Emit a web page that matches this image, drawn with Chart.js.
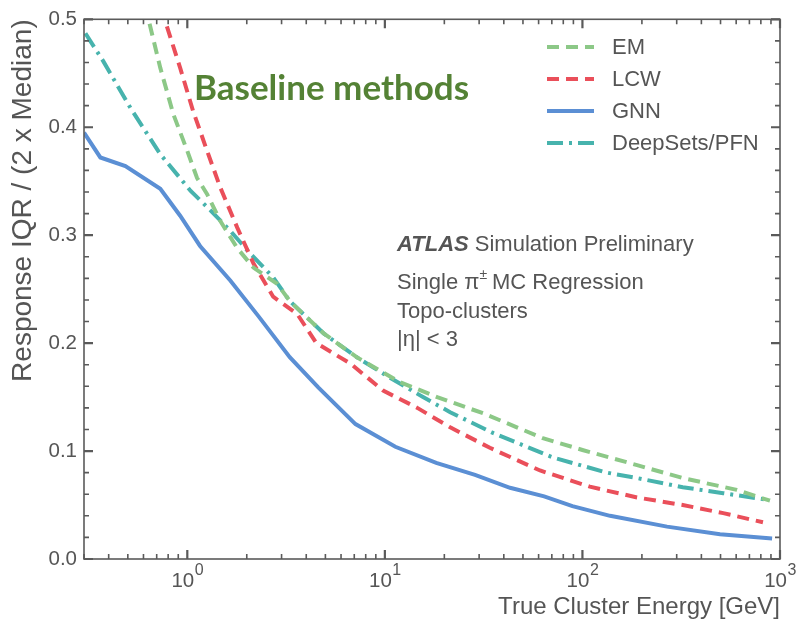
<!DOCTYPE html>
<html><head><meta charset="utf-8">
<script src="https://cdn.jsdelivr.net/npm/chart.js@4/dist/chart.umd.min.js"></script>
<style>html,body{margin:0;padding:0;background:#fff}#wrap{width:799px;height:622px}</style>
</head><body><div id="wrap"><canvas id="c" width="799" height="622"></canvas></div>
<script>
// Data
const emE = [0.58, 0.73, 0.85, 1.0, 1.12, 1.26, 1.47, 1.79, 2.16, 2.85, 3.3, 4.9, 7.2, 11.9, 18.4, 31.4, 63, 100, 189, 322, 604, 889];
const emY = [0.53, 0.455, 0.412, 0.378, 0.353, 0.338, 0.313, 0.288, 0.270, 0.255, 0.239, 0.209, 0.187, 0.164, 0.150, 0.135, 0.112, 0.101, 0.087, 0.075, 0.064, 0.054];
const lcwE = [0.69, 0.774, 0.92, 1.07, 1.26, 1.47, 1.79, 2.16, 2.72, 3.6, 4.5, 6.7, 9.8, 14.6, 21.4, 34, 61, 109, 189, 322, 516, 820];
const lcwY = [0.527, 0.498, 0.455, 0.415, 0.378, 0.344, 0.307, 0.274, 0.243, 0.227, 0.200, 0.181, 0.156, 0.140, 0.122, 0.103, 0.082, 0.067, 0.057, 0.050, 0.0425, 0.034];
const gnnE = [0.3, 0.363, 0.486, 0.73, 0.92, 1.16, 1.65, 2.29, 3.3, 4.6, 7.1, 11.3, 18.2, 28.6, 43, 64, 89, 138, 268, 497, 912];
const gnnY = [0.395, 0.372, 0.364, 0.343, 0.318, 0.290, 0.258, 0.225, 0.187, 0.159, 0.125, 0.104, 0.089, 0.078, 0.066, 0.058, 0.049, 0.040, 0.030, 0.023, 0.019];
const dsE = [0.305, 0.376, 0.515, 0.73, 1.04, 1.31, 1.65, 2.08, 2.72, 3.3, 4.9, 7.2, 10.6, 15.6, 21.4, 35, 71, 133, 189, 322, 516, 889];
const dsY = [0.487, 0.461, 0.418, 0.375, 0.341, 0.323, 0.304, 0.283, 0.261, 0.239, 0.209, 0.187, 0.168, 0.150, 0.136, 0.117, 0.094, 0.080, 0.075, 0.0665, 0.061, 0.0545];
const seriesNames = ['EM', 'LCW', 'GNN', 'DeepSets/PFN'];
const xTickValues = [1, 10, 100, 1000];
const xTickBase = '10';
const xTickExponents = ['0', '1', '2', '3'];
const yTickValues = [0, 0.1, 0.2, 0.3, 0.4, 0.5];

const pts = (xs, ys) => xs.map((x, i) => ({x: x, y: ys[i]}));
const GRAY = '#555555';
const FONT = "'Liberation Sans', Arial, sans-serif";

const mk = (label, data, color, dash) => ({
  label, data, borderColor: color, backgroundColor: color, borderWidth: 4,
  borderDash: dash, pointRadius: 0, tension: 0, fill: false, clip: 0
});

const frame = {
  id: 'frame',
  afterDatasetsDraw(chart) {
    const ctx = chart.ctx, a = chart.chartArea, xs = chart.scales.x, ys = chart.scales.y;
    ctx.save();
    ctx.strokeStyle = '#5a5a5a'; ctx.lineWidth = 1.6;
    ctx.strokeRect(a.left, a.top, a.right - a.left, a.bottom - a.top);
    // x ticks
    for (let d = -1; d <= 3; d++) {
      for (let m = 1; m <= 9; m++) {
        const v = m * Math.pow(10, d);
        if (v < xs.min - 1e-9 || v > xs.max + 1e-9) continue;
        const px = xs.getPixelForValue(v);
        const L = (m === 1) ? 9 : 5;
        ctx.lineWidth = (m === 1) ? 2.2 : 1.6;
        ctx.beginPath();
        ctx.moveTo(px, a.bottom); ctx.lineTo(px, a.bottom - L);
        ctx.moveTo(px, a.top); ctx.lineTo(px, a.top + L);
        ctx.stroke();
      }
    }
    // y ticks
    for (let i = 0; i <= 25; i++) {
      const v = i * 0.02;
      const py = ys.getPixelForValue(v);
      const L = (i % 5 === 0) ? 9 : 5;
      ctx.lineWidth = (i % 5 === 0) ? 2.2 : 1.6;
      ctx.beginPath();
      ctx.moveTo(a.left, py); ctx.lineTo(a.left + L, py);
      ctx.moveTo(a.right, py); ctx.lineTo(a.right - L, py);
      ctx.stroke();
    }
    // x tick labels 10^n
    ctx.fillStyle = GRAY; ctx.textBaseline = 'alphabetic';
    xTickValues.forEach((v, i) => {
      const px = xs.getPixelForValue(v);
      ctx.font = '20.5px ' + FONT;
      const wb = ctx.measureText(xTickBase).width;
      ctx.font = '16px ' + FONT;
      const we = ctx.measureText(xTickExponents[i]).width;
      const x0 = px - (wb + we) / 2;
      ctx.font = '20.5px ' + FONT;
      ctx.fillText(xTickBase, x0, 587);
      ctx.font = '16px ' + FONT;
      ctx.fillText(xTickExponents[i], x0 + wb + 0.5, 575);
    });
    // legend
    const ly = [47, 79, 111, 143];
    chart.data.datasets.forEach((ds, i) => {
      ctx.save();
      ctx.strokeStyle = ds.borderColor; ctx.lineWidth = 4;
      ctx.setLineDash(ds.borderDash || []);
      ctx.beginPath(); ctx.moveTo(547, ly[i]); ctx.lineTo(594, ly[i]); ctx.stroke();
      ctx.restore();
      ctx.fillStyle = GRAY; ctx.font = '22px ' + FONT; ctx.textBaseline = 'middle';
      ctx.fillText(ds.label, 612, ly[i] + 1);
    });
    // annotations
    ctx.textBaseline = 'alphabetic';
    ctx.fillStyle = '#548235';
    ctx.font = "bold 35px Lato, 'Open Sans', sans-serif";
    ctx.fillText('Baseline methods', 194, 100);
    ctx.fillStyle = GRAY;
    ctx.font = 'italic bold 22px ' + FONT;
    ctx.fillText('ATLAS', 397, 251);
    const w = ctx.measureText('ATLAS ').width;
    ctx.font = '22px ' + FONT;
    ctx.fillText('Simulation Preliminary', 397 + w, 251);
    ctx.fillText('Single π', 397, 289);
    const w2 = ctx.measureText('Single π').width;
    ctx.font = '14px ' + FONT;
    ctx.fillText('±', 397 + w2, 279);
    const w3 = ctx.measureText('± ').width;
    ctx.font = '22px ' + FONT;
    ctx.fillText('MC Regression', 397 + w2 + w3 + 1, 289);
    ctx.fillText('Topo-clusters', 397, 318);
    ctx.fillText('|η| < 3', 397, 346);
    ctx.restore();
  }
};

new Chart(document.getElementById('c'), {
  type: 'line',
  data: {
    datasets: [
      mk(seriesNames[0], pts(emE, emY), '#8cc887', [12, 7]),
      mk(seriesNames[1], pts(lcwE, lcwY), '#ea4f5a', [12, 7]),
      mk(seriesNames[2], pts(gnnE, gnnY), '#5b8fd4', []),
      mk(seriesNames[3], pts(dsE, dsY), '#47b3ad', [16, 6, 3, 6])
    ]
  },
  options: {
    responsive: false, animation: false,
    layout: {padding: {top: 18, right: 19, left: 0, bottom: 0}},
    plugins: {legend: {display: false}, tooltip: {enabled: false}},
    scales: {
      x: {
        type: 'logarithmic', min: 0.3, max: 1000,
        grid: {display: false, drawTicks: false}, border: {display: false},
        afterBuildTicks: (s) => { s.ticks = xTickValues.map(v => ({value: v, major: true})); },
        afterFit: (s) => { s.height = 63; },
        ticks: {display: false},
        title: {display: true, text: 'True Cluster Energy [GeV]', align: 'end', color: GRAY,
          font: {family: FONT, size: 24}, padding: {top: 2, bottom: 0}}
      },
      y: {
        min: 0, max: 0.5,
        grid: {display: false, drawTicks: false}, border: {display: false},
        afterBuildTicks: (s) => { s.ticks = yTickValues.map(v => ({value: v})); },
        afterFit: (s) => { s.width = 84; },
        ticks: {color: GRAY, padding: 7, font: {family: FONT, size: 20.5},
          callback: (v) => Number(v).toFixed(1)},
        title: {display: true, text: 'Response IQR / (2 x Median)', align: 'end', color: GRAY,
          font: {family: FONT, size: 28}, padding: {top: 6, bottom: 0}}
      }
    }
  },
  plugins: [frame]
});
</script></body></html>
